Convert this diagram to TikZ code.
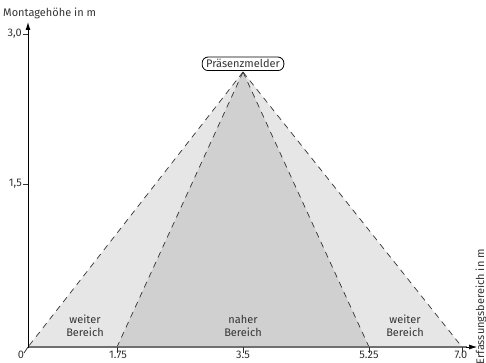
\documentclass[tikz,border=0pt]{standalone}
\usepackage{fontspec}
\setmainfont{Fira Sans}
\usetikzlibrary{arrows.meta}
\definecolor{txt}{HTML}{333333}
\definecolor{farfill}{HTML}{E6E6E6}
\definecolor{nearfill}{HTML}{D0D0D0}
\definecolor{axisgray}{HTML}{707070}
\tikzset{
  lbl/.style={font=\fontsize{11}{13}\selectfont, text=txt, inner sep=1pt},
  area/.style={font=\fontsize{11}{13}\selectfont, text=txt, align=center, inner sep=0pt},
  dashline/.style={draw=txt, dash pattern=on 6pt off 5pt, line width=0.7pt},
  sensor/.style={draw=black, fill=white, rounded corners=6pt, line width=0.8pt, font=\fontsize{11}{13}\selectfont, text=txt, inner xsep=4pt, inner ysep=2.5pt},
  tickx/.style={draw=txt, line width=0.8pt}
}
\begin{document}
\begin{tikzpicture}[x=1pt,y=-1pt]
\useasboundingbox (0,0) rectangle (486,363);
% key points
\coordinate (apex) at (243,72);
\coordinate (o) at (28,347);
\coordinate (a) at (117,347);
\coordinate (b) at (369,347);
\coordinate (c) at (462,347);
% fills
\fill[farfill] (apex) -- (o) -- (c) -- cycle;
\fill[nearfill] (apex) -- (a) -- (b) -- cycle;
% dashed edges
\draw[dashline] (apex) -- (o);
\draw[dashline] (apex) -- (a);
\draw[dashline] (apex) -- (b);
\draw[dashline] (apex) -- (c);
% sensor
\node[sensor, anchor=south] (sensor) at (243,71) {Präsenzmelder};
% axes
\coordinate (ytop) at (28,22);
\coordinate (xend) at (477,347);
\draw[axisgray, line width=1.6pt] (o) -- (467,347);
\draw[black, line width=0.6pt, -{Latex[length=8pt,width=5pt]}] (466,347) -- (xend);
\draw[black, line width=1pt, -{Latex[length=8pt,width=5pt]}] (28,348) -- (ytop);
% y ticks
\draw[tickx] (23,34) -- (28,34);
\draw[tickx] (23,184) -- (28,184);
\node[lbl, anchor=east] (y30) at (23,34) {3,0};
\node[lbl, anchor=east] (y15) at (23,184) {1,5};
% x ticks
\draw[tickx] (a) -- (117,353);
\draw[tickx] (243,347) -- (243,353);
\draw[tickx] (b) -- (369,353);
\draw[tickx] (c) -- (462,353);
\draw[tickx] (28,347) -- (24,353);
\node[lbl, anchor=north] (x0) at (21,350) {0};
\node[lbl, anchor=north] (x175) at (118,350) {1.75};
\node[lbl, anchor=north] (x35) at (243,350) {3.5};
\node[lbl, anchor=north] (x525) at (369,350) {5.25};
\node[lbl, anchor=north] (x70) at (461,350) {7.0};
% axis titles
\node[lbl, anchor=west] (ytitle) at (2,13) {Montagehöhe in m};
\node[lbl, anchor=east, rotate=90] (xtitle) at (481,248) {Erfassungsbereich in m};
% area labels
\node[area] (far1) at (85,326) {weiter\\Bereich};
\node[area] (near) at (243,326) {naher\\Bereich};
\node[area] (far2) at (405,326) {weiter\\Bereich};
\end{tikzpicture}
\end{document}
